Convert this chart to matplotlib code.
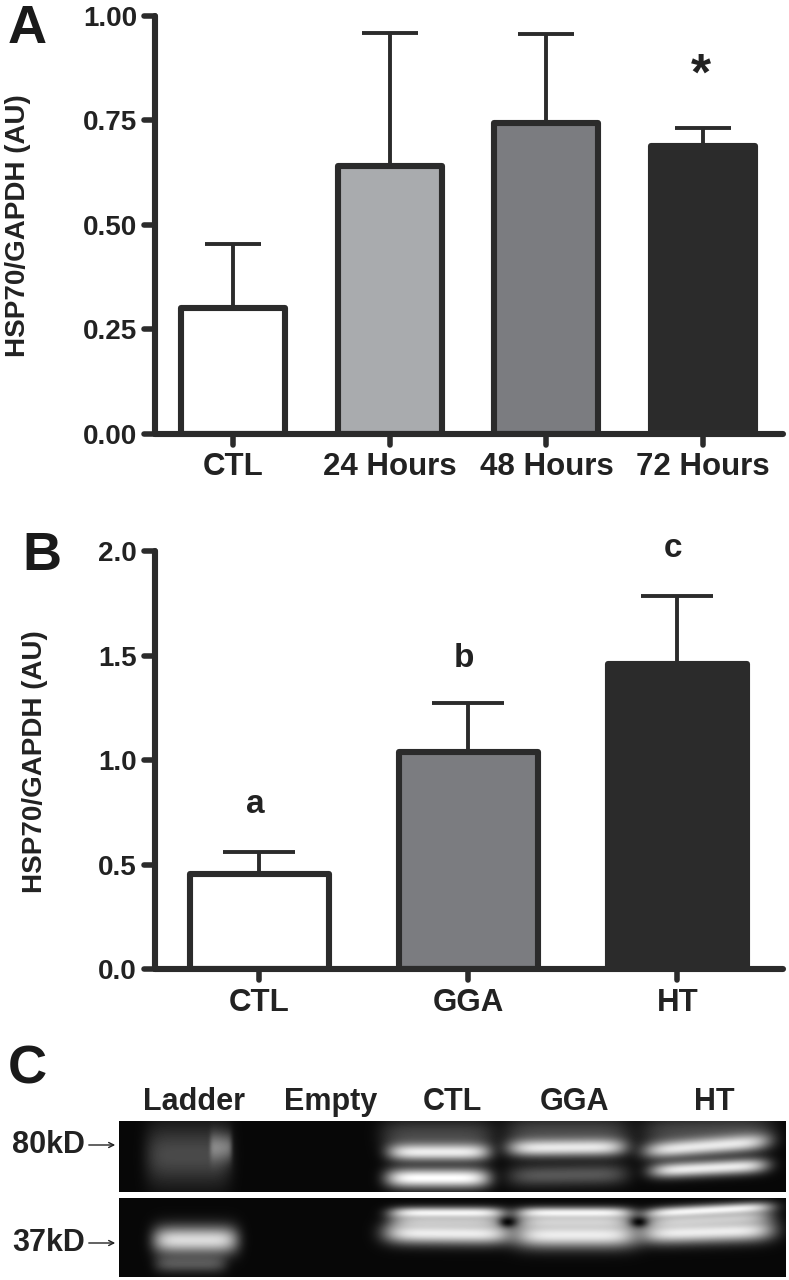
import numpy as np
import matplotlib
matplotlib.use("Agg")
import matplotlib.pyplot as plt
from matplotlib.lines import TICKLEFT, TICKDOWN
from matplotlib.markers import MarkerStyle

plt.rcParams['font.family'] = ['Liberation Sans', 'DejaVu Sans']

W, H = 789, 1280
DARK = '#2b2b2b'

# panel A
labels_a = ['CTL', '24 Hours', '48 Hours', '72 Hours']
values_a = [0.300, 0.641, 0.743, 0.689]
errors_a = [0.153, 0.317, 0.212, 0.043]
colors_a = ['white', '#a9abae', '#7b7c80', DARK]
ticks_a = [0.00, 0.25, 0.50, 0.75, 1.00]

# panel B
labels_b = ['CTL', 'GGA', 'HT']
values_b = [0.454, 1.040, 1.461]
errors_b = [0.108, 0.232, 0.322]
colors_b = ['white', '#7b7c80', DARK]
ticks_b = [0.0, 0.5, 1.0, 1.5, 2.0]
letters_b = ['a', 'b', 'c']
letter_heights_b = [0.749, 1.447, 1.973]

# panel C, the blot. each band: x0, x1, y at x0, y at x1, sigma, brightness
lanes_c = ['Ladder', 'Empty', 'CTL', 'GGA', 'HT']
lane_x_c = [194, 331, 452, 575, 714]
top_bands = [
    (146, 231, 1155, 1155, 30, 0.27),
    (210, 232, 1147, 1147, 14, 0.38),
    (381, 494, 1135, 1135, 16, 0.25),
    (388, 490, 1152, 1152, 9, 0.92),
    (386, 490, 1178, 1178, 10, 1.00),
    (505, 630, 1132, 1132, 16, 0.25),
    (508, 626, 1148, 1147, 9, 0.90),
    (508, 628, 1176, 1174, 11, 0.32),
    (642, 772, 1132, 1130, 16, 0.25),
    (644, 769, 1151, 1141, 9, 0.90),
    (650, 768, 1171, 1165, 8, 0.92),
]
bottom_bands = [
    (153, 238, 1240, 1240, 14, 0.85),
    (155, 226, 1264, 1264, 9, 0.30),
    (390, 505, 1213, 1213, 6, 0.95),
    (384, 512, 1233, 1234, 11, 0.92),
    (392, 503, 1222, 1222, 8, 0.65),
    (516, 633, 1213, 1213, 6, 0.95),
    (514, 638, 1235, 1235, 13, 0.92),
    (518, 631, 1222, 1222, 8, 0.70),
    (644, 772, 1214, 1207, 6, 0.95),
    (640, 774, 1234, 1230, 11, 0.92),
    (646, 770, 1223, 1217, 8, 0.70),
]
knots = [(508, 1222), (639, 1222)]
top_box = (119, 786, 1121, 1192)
bottom_box = (119, 786, 1198, 1277)
sizes_c = ['80kD', '37kD']
size_y_c = [1143, 1241]


def px_axes(fig, x0, x1, y0, y1):
    return fig.add_axes([x0 / W, 1 - y1 / H, (x1 - x0) / W, (y1 - y0) / H])


def bar_panel(fig, box, labels, values, errors, colors, ticks, xlim, ylim, capsize, fmt):
    ax = px_axes(fig, *box)
    x = np.arange(len(values))
    ax.errorbar(x, values, yerr=[np.zeros(len(errors)), errors], fmt='none', ecolor=DARK,
                elinewidth=2.8, capsize=capsize, capthick=2.8, zorder=1)
    ax.bar(x, values, width=0.664, color=colors, edgecolor=DARK, linewidth=4.4,
           joinstyle='round', zorder=2)
    ax.set_xlim(*xlim)
    ax.set_ylim(*ylim)
    ax.set_xticks(x, labels)
    ax.set_yticks(ticks, [fmt % t for t in ticks])
    ax.tick_params(axis='both', length=8, width=4, color=DARK, labelcolor='#222222')
    ax.tick_params(axis='y', pad=5, labelsize=20)
    ax.tick_params(axis='x', pad=5.5, labelsize=22.5)
    for t in ax.get_xticklabels() + ax.get_yticklabels():
        t.set_fontweight('bold')
    # round ends on the ticks, like the original
    for t in ax.yaxis.get_major_ticks():
        t.tick1line.set_marker(MarkerStyle(TICKLEFT, capstyle='round'))
    for t in ax.xaxis.get_major_ticks():
        t.tick1line.set_marker(MarkerStyle(TICKDOWN, capstyle='round'))
    for side in ['top', 'right']:
        ax.spines[side].set_visible(False)
    for side in ['left', 'bottom']:
        ax.spines[side].set_linewidth(4.4)
        ax.spines[side].set_color(DARK)
        ax.spines[side].set_capstyle('round')
        ax.spines[side].set_zorder(3)
    ax.patch.set_alpha(0)
    return ax


# paint the bands onto a dark grid, one pixel per grid cell
def blot_image(box, bands, holes=()):
    x0, x1, y0, y1 = box
    xx, yy = np.meshgrid(np.arange(x0, x1) + 0.5, np.arange(y0, y1) + 0.5)
    img = np.zeros(xx.shape)
    for bx0, bx1, by0, by1, sigma, level in bands:
        cx = (bx0 + bx1) / 2
        half = (bx1 - bx0) / 2
        yc = by0 + (by1 - by0) * (xx - bx0) / (bx1 - bx0)
        band = level * np.exp(-((xx - cx) / half) ** 6) * np.exp(-((yy - yc) / sigma) ** 2)
        img = 1 - (1 - img) * (1 - band)
    for hx, hy in holes:
        img *= 1 - np.exp(-(((xx - hx) / 8) ** 2 + ((yy - hy) / 5) ** 2))
    return img


fig = plt.figure(figsize=(W / 100, H / 100), dpi=100, facecolor='white')

ax_a = bar_panel(fig, (155, 783, 15.5, 433.7), labels_a, values_a, errors_a, colors_a, ticks_a,
                 (-0.498, 3.51), (0, 1), 20, '%.2f')
ax_a.text(2.987, 0.822, '*', fontsize=37, fontweight='bold', color='#222222', ha='center', va='baseline')

ax_b = bar_panel(fig, (155, 783, 551, 969.3), labels_b, values_b, errors_b, colors_b, ticks_b,
                 (-0.499, 2.506), (0, 2), 26, '%.1f')
for i, letter in enumerate(letters_b):
    ax_b.text(i - 0.02, letter_heights_b[i], letter, fontsize=24, fontweight='bold',
              color='#222222', ha='center', va='baseline')

# overlay in image pixels for the blot and the free text
ov = fig.add_axes([0, 0, 1, 1], zorder=5)
ov.set_xlim(0, W)
ov.set_ylim(H, 0)
ov.axis('off')

ov.text(18, 226, 'HSP70/GAPDH (AU)', rotation=90, fontsize=20, fontweight='bold', color='#222222',
        ha='center', va='center')
ov.text(35, 762, 'HSP70/GAPDH (AU)', rotation=90, fontsize=20, fontweight='bold', color='#222222',
        ha='center', va='center')

for letter, lx, ly in [('A', 27, 43), ('B', 42, 570), ('C', 27, 1084)]:
    ov.text(lx, ly, letter, fontsize=39, fontweight='bold', color='#1a1a1a', ha='center', va='baseline')

for box, bands, holes in [(top_box, top_bands, ()), (bottom_box, bottom_bands, knots)]:
    ov.imshow(blot_image(box, bands, holes), cmap='gray', vmin=-0.03, vmax=1.0, aspect='auto',
              extent=(box[0], box[1], box[3], box[2]), interpolation='bilinear', zorder=1)
ov.set_xlim(0, W)
ov.set_ylim(H, 0)

for name, lx in zip(lanes_c, lane_x_c):
    ov.text(lx, 1102, name, fontsize=22, fontweight='bold', color='#222222', ha='center', va='center')
for name, ly in zip(sizes_c, size_y_c):
    ov.text(12, ly + 2, name, fontsize=22, fontweight='bold', color='#222222', ha='left', va='center')
    ov.annotate('', xy=(118, ly + 2), xytext=(86, ly + 2),
                arrowprops=dict(arrowstyle='->', lw=1.0, color='#222222', mutation_scale=9))

fig.savefig('out.png', dpi=100, facecolor='white')
